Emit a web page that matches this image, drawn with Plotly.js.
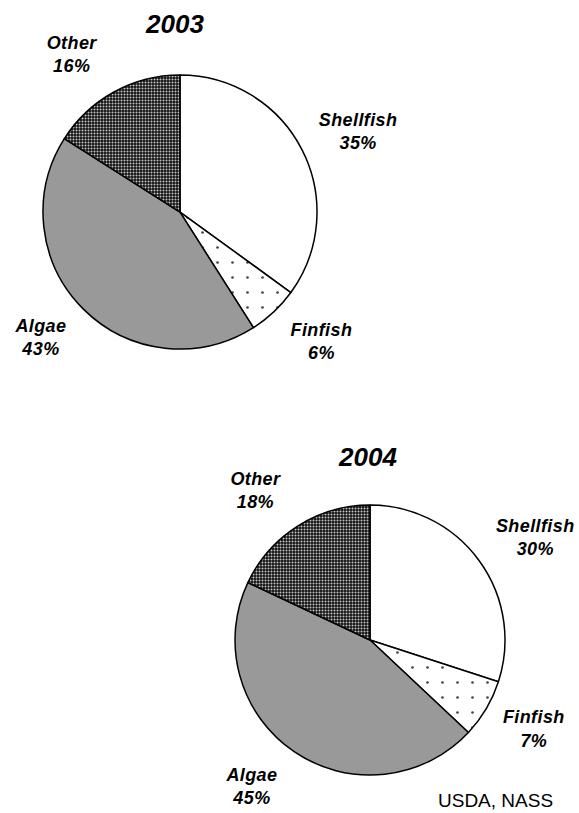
<!DOCTYPE html>
<html>
<head>
<meta charset="utf-8">
<script src="https://cdn.plot.ly/plotly-3.0.1.min.js"></script>
<style>
html,body{margin:0;padding:0;background:#fff;}
#chart{width:579px;height:813px;}
text[data-notex="1"]{letter-spacing:0.4px;}
</style>
</head>
<body>
<div id="chart"></div>
<script>
var categories = ["Shellfish", "Finfish", "Algae", "Other"];
var values2003 = [35, 6, 43, 16];
var values2004 = [30, 7, 45, 18];
var years = ["2003", "2004"];
var source = "USDA, NASS";

var sliceColors = ["#ffffff", "#ffffff", "#999999", "#111111"];
var patShapes = ["", ".", "", "."];
var patFg = ["#000000", "#444444", "#000000", "#c8c8c8"];
var patSize = [8, 15, 8, 3];
var patSolid = [0.3, 0.025, 0.3, 0.35];

var NB = "\u00A0";
// labels above the centre get a trailing spacer line, below get a leading one
var labelTemplates = [
  "%{label}<br>%{value}%<br>" + NB,
  NB + "<br>%{label}<br>%{value}%",
  NB + "<br>%{label}<br>%{value}%",
  "%{label}<br>%{value}%<br>" + NB
];

var labelFont = {family: "Liberation Sans, Arial, sans-serif", size: 18, color: "#000", weight: "bold", style: "italic"};

function pieTrace(vals, dx, dy) {
  return {
    type: "pie",
    labels: categories,
    values: vals,
    sort: false,
    direction: "clockwise",
    rotation: 0,
    textposition: "outside",
    texttemplate: labelTemplates,
    outsidetextfont: labelFont,
    textfont: labelFont,
    showlegend: false,
    hoverinfo: "label+value",
    domain: {x: dx, y: dy},
    marker: {
      colors: sliceColors,
      line: {color: "#000", width: 1.5},
      pattern: {shape: patShapes, fgcolor: patFg, bgcolor: sliceColors, size: patSize, solidity: patSolid}
    }
  };
}

var data = [
  pieTrace(values2003, [0.0743, 0.5475], [0.5707, 0.9077]),
  pieTrace(values2004, [0.4059, 0.8722], [0.0467, 0.3788])
];

var titleFont = {family: "Liberation Sans, Arial, sans-serif", size: 26, color: "#000", weight: "bold", style: "italic"};

var layout = {
  width: 579, height: 813,
  margin: {l: 0, r: 0, t: 0, b: 0},
  paper_bgcolor: "#fff",
  plot_bgcolor: "#fff",
  annotations: [
    {text: years[0], x: 174/579, y: 1 - 24/813, xref: "paper", yref: "paper", showarrow: false, xanchor: "center", yanchor: "middle", font: titleFont},
    {text: years[1], x: 367/579, y: 1 - 457/813, xref: "paper", yref: "paper", showarrow: false, xanchor: "center", yanchor: "middle", font: titleFont},
    {text: source, x: 495/579, y: 1 - 800/813, xref: "paper", yref: "paper", showarrow: false, xanchor: "center", yanchor: "middle",
     font: {family: "Liberation Sans, Arial, sans-serif", size: 19, color: "#000"}}
  ]
};

Plotly.newPlot("chart", data, layout, {displayModeBar: false, staticPlot: true});
</script>
</body>
</html>
